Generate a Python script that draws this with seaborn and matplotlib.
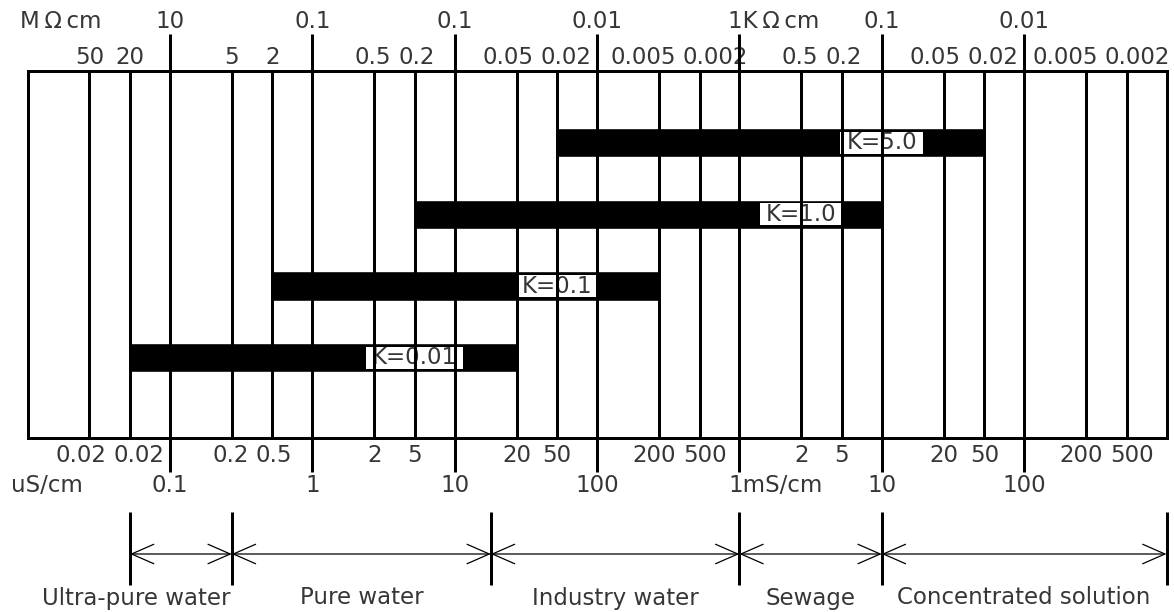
import matplotlib
matplotlib.use("Agg")
import matplotlib.pyplot as plt
import numpy as np
import seaborn as sns
from matplotlib.patches import ArrowStyle, Rectangle
from matplotlib.transforms import IdentityTransform

# ── Data (conductivity in uS/cm) ─────────────────────────────────────
x_min_us, x_max_us = 0.01, 1000000
major_us = [0.1, 1, 10, 100, 1000, 10000, 100000]
minor_us = [0.02, 0.05, 0.2, 0.5, 2, 5, 20, 50, 200, 500,
            2000, 5000, 20000, 50000, 200000, 500000]

top_major_labels = ["10", "0.1", "0.1", "0.01", "1K\u2009Ω\u2009cm", "0.1", "0.01"]
top_minor_labels = ["50", "20", "5", "2", "0.5", "0.2", "0.05", "0.02",
                    "0.005", "0.002", "0.5", "0.2", "0.05", "0.02", "0.005", "0.002"]
bottom_major_labels = ["0.1", "1", "10", "100", "1mS/cm", "10", "100"]
bottom_minor_labels = ["0.02", "0.02", "0.2", "0.5", "2", "5", "20", "50",
                       "200", "500", "2", "5", "20", "50", "200", "500"]

# cell constant ranges
k_labels = ["K=0.01", "K=0.1", "K=1.0", "K=5.0"]
k_low_us = [0.05, 0.5, 5, 50]
k_high_us = [20, 200, 10000, 50000]
k_label_at_us = [5, 50, 2000, 10000]

# application ranges
range_edges_us = [0.05, 0.2, 15, 1000, 10000, 1000000]
range_names = ["Ultra-pure water", "Pure water", "Industry water", "Sewage",
               "Concentrated solution"]
range_ha = ["right", "center", "center", "center", "center"]

# ── Style / layout ───────────────────────────────────────────────────
W, H = 1174, 612
AX_L, AX_R, AX_T, AX_B = 27.5, 1166.5, 71, 438
LW = 2.15
FS = 16.5
TXT = "#363636"

# schematic scale: decades equal width, 2 and 5 at fixed fractions
MANT_LOG = np.log10([1, 2, 5, 10])
MANT_POS = [0.0, 0.435, 0.72, 1.0]


def fwd(x):
    lx = np.log10(np.clip(np.asarray(x, dtype=float), 1e-12, None))
    d = np.floor(lx)
    return d + np.interp(lx - d, MANT_LOG, MANT_POS)


def inv(p):
    p = np.asarray(p, dtype=float)
    d = np.floor(p)
    return 10 ** (d + np.interp(p - d, MANT_POS, MANT_LOG))


def fy(px):
    """pixel row (from top) -> axes fraction"""
    return (AX_B - px) / (AX_B - AX_T)


sns.set_theme(style="white")
plt.rcParams["font.family"] = ["DejaVu Sans"]

fig = plt.figure(figsize=(W / 100, H / 100), dpi=100)
ax = fig.add_axes([AX_L / W, 1 - AX_B / H, (AX_R - AX_L) / W, (AX_B - AX_T) / H])
ax.set_xscale("function", functions=(fwd, inv))
ax.set_xlim(x_min_us, x_max_us)
ax.set_ylim(-1.12, 4.0)
ax.set_xticks([])
ax.set_yticks([])
for sp in ax.spines.values():
    sp.set_color("black")
    sp.set_linewidth(LW)

xt = ax.get_xaxis_transform()

# bars
rows = np.arange(len(k_labels))
ax.barh(rows, np.subtract(k_high_us, k_low_us), left=k_low_us, height=0.41,
        color="black", zorder=2)
k_texts = [ax.text(at, r, lab, ha="center", va="center", fontsize=FS, color=TXT,
                   zorder=3.5)
           for r, lab, at in zip(rows, k_labels, k_label_at_us)]

# grid lines, major ones run out as ticks
ax.vlines(minor_us, 0, 1, transform=xt, colors="black", lw=LW, zorder=4)
ax.vlines(major_us, fy(472), fy(34), transform=xt, colors="black", lw=LW,
          zorder=4, clip_on=False)


def label(x, y, s, ha="center", dx=0):
    return ax.annotate(s, xy=(x, y), xycoords=xt, xytext=(dx, 0),
                       textcoords="offset pixels", ha=ha, va="center",
                       fontsize=FS, color=TXT, annotation_clip=False)


for v, s in zip(major_us, top_major_labels):
    if s.startswith("1K"):
        label(v, fy(21), s, ha="left", dx=-11)
    else:
        label(v, fy(21), s)
for v, s in zip(major_us, bottom_major_labels):
    if s.startswith("1m"):
        label(v, fy(485), s, ha="left", dx=-11)
    else:
        label(v, fy(485), s)

ax.text(0.0294, fy(21), "M\u2009Ω\u2009cm", transform=ax.transAxes, ha="center",
        va="center", fontsize=FS, color=TXT)
ax.text(0.0171, fy(485), "uS/cm", transform=ax.transAxes, ha="center",
        va="center", fontsize=FS, color=TXT)

top_minor = [label(v, fy(58), s) for v, s in zip(minor_us, top_minor_labels)]
bot_minor = [label(v, fy(455), s) for v, s in zip(minor_us, bottom_minor_labels)]

# application ranges below the scale
ax.vlines(range_edges_us, fy(585), fy(512), transform=xt, colors="black", lw=LW,
          clip_on=False)
arrow = ArrowStyle("<->", head_length=1.6, head_width=0.7)
for a, b, name, ha in zip(range_edges_us[:-1], range_edges_us[1:], range_names, range_ha):
    ax.annotate("", xy=(b, fy(554)), xycoords=xt, xytext=(a, fy(554)),
                textcoords=xt, annotation_clip=False,
                arrowprops=dict(arrowstyle=arrow, color="black", lw=0.9,
                                shrinkA=0, shrinkB=0, mutation_scale=10))
    if ha == "right":
        label(b, fy(598), name, ha="right", dx=-1)
    else:
        label(inv((fwd(a) + fwd(b)) / 2), fy(598), name)

fig.canvas.draw()
rend = fig.canvas.get_renderer()


def spread_pairs(anns, gap=7, right_edge=W - 4):
    """push the 2/5 labels of one decade apart when they collide"""
    for a, b in zip(anns[0::2], anns[1::2]):
        ea, eb = a.get_window_extent(rend), b.get_window_extent(rend)
        over = max(ea.x1 + gap - eb.x0, 0)
        da, db = -over / 2, over / 2
        excess = eb.x1 + db - right_edge
        if excess > 0:
            da, db = da - excess, db - excess
        a.xyann = (da, 0)
        b.xyann = (db, 0)


spread_pairs(top_minor)
spread_pairs(bot_minor)

# white boxes behind the K labels, a little lower than the bar
for t in k_texts:
    e = t.get_window_extent(rend)
    cx, cy = (e.x0 + e.x1) / 2, (e.y0 + e.y1) / 2
    bw, bh = e.width + 12, 22
    ax.add_patch(Rectangle((cx - bw / 2, cy - bh / 2), bw, bh, transform=IdentityTransform(),
                           fc="white", ec="none", zorder=3))

fig.savefig("out.png", dpi=100, facecolor="white")
